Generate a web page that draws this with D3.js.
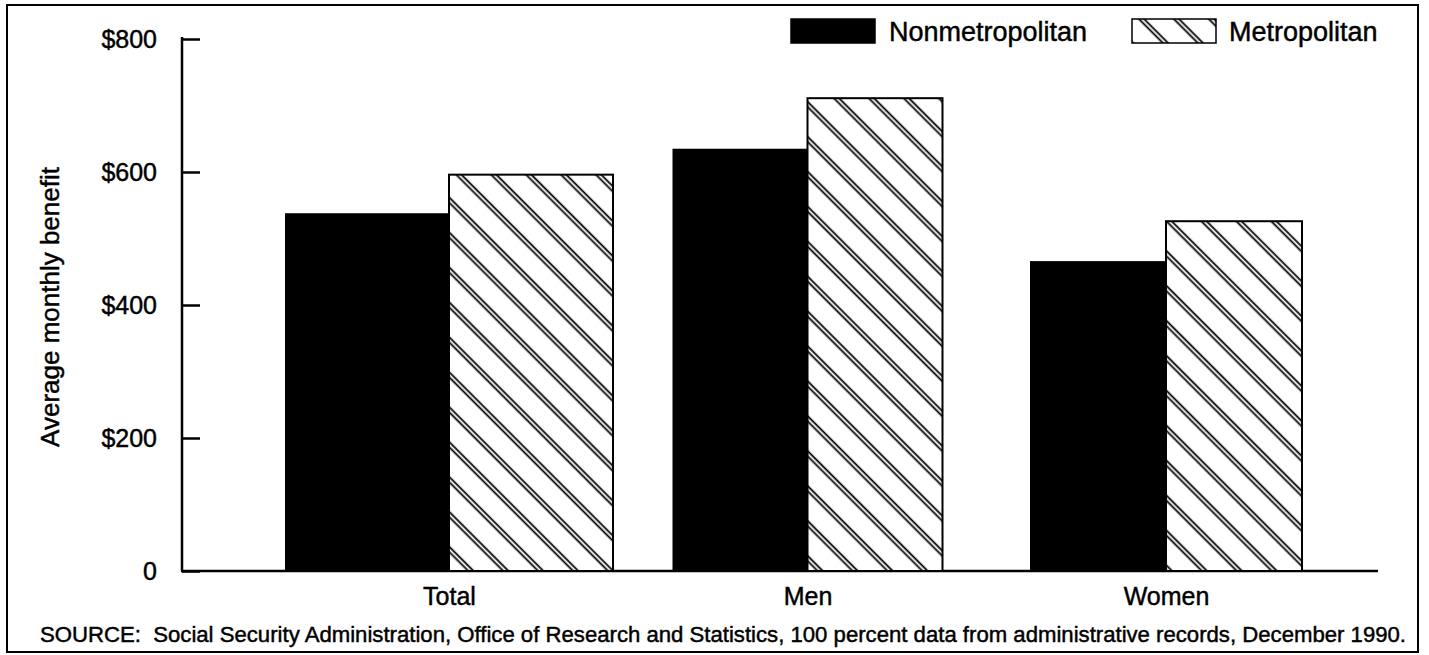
<!DOCTYPE html>
<html>
<head>
<meta charset="utf-8">
<script src="https://cdn.jsdelivr.net/npm/d3@7"></script>
<style>
  body { margin: 0; background: #fff; }
  text { font-family: "Liberation Sans", Arial, Helvetica, sans-serif; fill: #000; stroke: #000; stroke-width: 0.45px; }
</style>
</head>
<body>
<div id="chart"></div>
<script>
// data
var categories = ["Total", "Men", "Women"];
var nonmetroValues = [538, 635, 466];
var metroValues = [596, 711, 526];
var yTicks = [0, 200, 400, 600, 800];
var seriesNames = ["Nonmetropolitan", "Metropolitan"];
var yTitle = "Average monthly benefit";
var sourceNote = "SOURCE:  Social Security Administration, Office of Research and Statistics, 100 percent data from administrative records, December 1990.";

// svg params
var svgWidth = 1429;
var svgHeight = 655;

// bar widths differ in the original (Total is drawn wider)
var barWidth = { Total: 164, Men: 135, Women: 136 };

var svg = d3.select("#chart")
  .append("svg")
  .attr("width", svgWidth)
  .attr("height", svgHeight);

// hatch pattern: pairs of thin lines running top-left to bottom-right
var defs = svg.append("defs");
var hatch = defs.append("pattern")
  .attr("id", "hatch")
  .attr("patternUnits", "userSpaceOnUse")
  .attr("width", 24.7)
  .attr("height", 24.7)
  .attr("patternTransform", "rotate(-45)");
hatch.append("rect").attr("width", 24.7).attr("height", 24.7).attr("fill", "#fff");
[1.5, 5.2].forEach(function(x) {
  hatch.append("line")
    .attr("x1", x).attr("x2", x)
    .attr("y1", 0).attr("y2", 24.7)
    .attr("stroke", "#000")
    .attr("stroke-width", 1.8);
});

// outer frame
svg.append("rect")
  .attr("x", 7).attr("y", 5)
  .attr("width", 1411).attr("height", 647)
  .attr("fill", "none")
  .attr("stroke", "#000")
  .attr("stroke-width", 2);

// scales
var xScale = d3.scalePoint()
  .domain(categories)
  .range([449, 1166]);

var yScale = d3.scaleLinear()
  .domain([0, 800])
  .range([571, 39]);

// y axis, ticks pointing into the plot
var leftAxis = d3.axisLeft(yScale)
  .tickValues(yTicks)
  .tickSizeInner(-18)
  .tickSizeOuter(0)
  .tickPadding(25)
  .tickFormat(function(d) { return d === 0 ? "0" : "$" + d; });

var yAxisG = svg.append("g")
  .attr("transform", "translate(182, 0)")
  .call(leftAxis);
yAxisG.select(".domain").attr("stroke-width", 2.5).attr("d", "M0,37V571");
yAxisG.selectAll(".tick line").attr("stroke-width", 2.5);
yAxisG.selectAll(".tick text")
  .style("font-size", "25px")
  .attr("fill", "#000");

// baseline
svg.append("line")
  .attr("x1", 181).attr("x2", 1378)
  .attr("y1", yScale(0)).attr("y2", yScale(0))
  .attr("stroke", "#000")
  .attr("stroke-width", 2.5);

// bars
var barsData = categories.map(function(c, i) {
  return { cat: c, nonmetro: nonmetroValues[i], metro: metroValues[i] };
});

svg.selectAll(".nonmetroBar")
  .data(barsData)
  .enter()
  .append("rect")
  .attr("class", "nonmetroBar")
  .attr("x", d => xScale(d.cat) - barWidth[d.cat])
  .attr("y", d => yScale(d.nonmetro))
  .attr("width", d => barWidth[d.cat])
  .attr("height", d => yScale(0) - yScale(d.nonmetro))
  .attr("fill", "#000");

svg.selectAll(".metroBar")
  .data(barsData)
  .enter()
  .append("rect")
  .attr("class", "metroBar")
  .attr("x", d => xScale(d.cat))
  .attr("y", d => yScale(d.metro))
  .attr("width", d => barWidth[d.cat])
  .attr("height", d => yScale(0) - yScale(d.metro))
  .attr("fill", "url(#hatch)")
  .attr("stroke", "#000")
  .attr("stroke-width", 2);

// category labels
var bottomAxis = d3.axisBottom(xScale).tickSize(0).tickPadding(16);
var xAxisG = svg.append("g")
  .attr("transform", `translate(0, ${yScale(0)})`)
  .call(bottomAxis);
xAxisG.select(".domain").remove();
xAxisG.selectAll(".tick text")
  .style("font-size", "25px")
  .attr("fill", "#000");

// y axis title
svg.append("text")
  .attr("transform", "translate(59, 307) rotate(-90)")
  .attr("text-anchor", "middle")
  .style("font-size", "26px")
  .text(yTitle);

// legend
var legendItems = [
  { name: seriesNames[0], fill: "#000", box: 791, text: 889 },
  { name: seriesNames[1], fill: "url(#hatch)", box: 1132, text: 1229 }
];
var legend = svg.selectAll(".legendItem")
  .data(legendItems)
  .enter()
  .append("g")
  .attr("class", "legendItem");
legend.append("rect")
  .attr("x", d => d.box)
  .attr("y", 19)
  .attr("width", 84)
  .attr("height", 24)
  .attr("fill", d => d.fill)
  .attr("stroke", "#000")
  .attr("stroke-width", 1.5);
legend.append("text")
  .attr("x", d => d.text)
  .attr("y", 41)
  .style("font-size", "27px")
  .text(d => d.name);

// source note
svg.append("text")
  .attr("x", 40)
  .attr("y", 642)
  .attr("textLength", 1366)
  .attr("lengthAdjust", "spacingAndGlyphs")
  .style("font-size", "22px")
  .style("white-space", "pre")
  .text(sourceNote);
</script>
</body>
</html>
